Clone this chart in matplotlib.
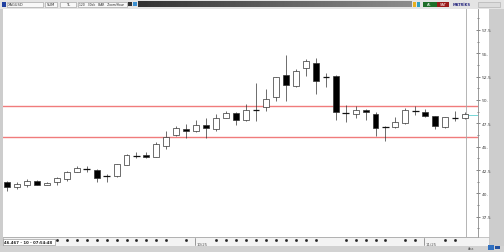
import matplotlib.pyplot as plt
import numpy as np
from matplotlib.patches import Rectangle

W, H = 504, 253

# candle data (one candle per bar)
opens  = [41.25, 40.70, 40.90, 41.36, 40.90, 41.19, 41.54, 42.26, 42.62, 42.54,
          41.83, 41.83, 43.07, 44.03, 44.10, 43.93, 45.10, 46.25, 46.89, 46.68,
          47.32, 46.89, 48.07, 48.57, 47.85, 48.92, 49.21, 50.28, 52.67, 51.46,
          53.40, 53.92, 52.42, 52.59, 48.60, 48.50, 48.95, 48.50, 47.07, 47.07,
          47.50, 48.78, 48.68, 48.25, 47.07, 48.07, 48.03]
highs  = [41.30, 41.25, 41.55, 41.45, 41.20, 41.80, 42.43, 42.97, 42.96, 42.60,
          42.08, 43.20, 44.20, 44.46, 44.40, 45.47, 46.71, 47.18, 47.43, 47.90,
          48.07, 48.50, 48.78, 48.70, 49.56, 51.78, 51.17, 52.50, 54.80, 53.30,
          54.37, 54.48, 52.85, 52.70, 49.46, 49.38, 49.00, 48.68, 47.24, 48.14,
          49.10, 49.38, 49.03, 48.30, 48.20, 48.78, 48.70]
lows   = [40.30, 40.45, 40.66, 40.85, 40.85, 40.90, 41.36, 42.26, 42.26, 41.19,
          41.25, 41.75, 43.00, 43.76, 43.76, 43.86, 44.75, 46.10, 45.90, 46.54,
          45.93, 46.71, 48.07, 47.32, 47.78, 47.78, 48.85, 49.92, 49.92, 51.35,
          52.52, 50.63, 51.35, 47.85, 47.60, 48.03, 47.88, 46.11, 45.64, 46.97,
          47.43, 48.42, 48.14, 46.89, 47.00, 47.78, 47.95]
closes = [40.65, 41.05, 41.33, 40.93, 41.15, 41.62, 42.26, 42.72, 42.62, 41.62,
          41.83, 43.15, 44.14, 44.03, 43.93, 45.25, 46.00, 46.97, 46.68, 47.32,
          47.00, 48.03, 48.57, 47.85, 48.92, 48.92, 50.10, 52.42, 51.60, 53.06,
          54.20, 52.00, 52.42, 48.68, 48.60, 48.95, 48.68, 46.97, 47.07, 47.60,
          48.95, 48.78, 48.25, 47.18, 48.17, 48.07, 48.50]

levels = [49.38, 46.03]
ytick_vals = [37.5, 40, 42.5, 45, 47.5, 50, 52.5, 55, 57.5]
ytick_labels = ['37.5', '40.', '42.5', '45.', '47.5', '50.', '52.5', '55.', '57.5']
dot_idx = [5, 6, 7, 8, 9, 10, 11, 12, 13, 14, 15, 16, 18, 21, 22, 23, 24, 25, 26,
           27, 28, 29, 30, 31, 34, 35, 36, 37, 38, 40, 41, 44, 45]
date_idx = [19, 42]
date_labels = ['10/25', '11/25']
status_text = '46.467 - 10 - 07:54:48'


def frac(x0, y0, x1, y1):
    # pixel box (top-left origin) -> figure fraction rect
    return [x0 / W, 1 - y1 / H, (x1 - x0) / W, (y1 - y0) / H]


def box(x0, y0, x1, y1, fc, ec='none', lw=0.4, z=0):
    l, b, w, h = frac(x0, y0, x1, y1)
    fig.add_artist(Rectangle((l, b), w, h, transform=fig.transFigure,
                             fc=fc, ec=ec, lw=lw, zorder=z))


def label(x, y, s, size=2.6, color='#222', **kw):
    fig.text(x / W, 1 - y / H, s, fontsize=size, color=color, va='center', **kw)


fig = plt.figure(figsize=(W / 100, H / 100), dpi=100)
fig.patch.set_facecolor('#cdcdcd')

# window chrome
box(0, 0, 504, 9.5, '#e4e4e4')
box(3, 9.5, 489, 238, 'white')
box(3, 238, 489, 247, '#f3f3f3', ec='#b0b0b0')
box(0, 247, 504, 253, '#d2d2d2')

# top toolbar
box(2, 2.5, 6, 7.5, '#2040a0')
box(7, 2.5, 43, 7.5, '#f8f8f8', ec='#999')
label(8, 5, 'XAGUSD', color='#333')
box(45, 2.5, 57, 7.5, '#f8f8f8', ec='#999')
label(46.5, 5, 'SUM')
box(60, 2.5, 76, 7.5, '#f8f8f8', ec='#999')
label(66, 5, 'TL')
box(78, 2.5, 127, 7.5, '#f8f8f8', ec='#999')
label(79, 5, '120   30dk   BAR   Zoom/Hour', size=2.2)
box(128, 3, 131.5, 7, '#333')
box(133, 3, 137, 7, '#3a8fd0')
grad = fig.add_axes(frac(138, 2, 412, 8))
grad.imshow(np.linspace(0.2, 0.55, 200)[None, :], aspect='auto', cmap='gray',
            vmin=0, vmax=1)
grad.set_axis_off()
box(413, 2.5, 416, 7.5, '#e8b020')
box(417, 2.5, 420, 7.5, '#30a0c0')
box(423, 2.5, 437, 7.5, '#1f6f2a')
label(427, 5, 'AL', color='white')
box(437, 2.5, 449, 7.5, '#9a1a1a')
label(439.5, 5, 'SAT', color='white')
label(453, 5, 'MATRİKS', color='#2a2a80', weight='bold')
box(478, 2.5, 500, 7.5, '#dcdcdc', ec='#aaa')

# bottom status
box(3, 239.5, 55, 246, 'white', ec='#888')
label(4, 243, status_text, size=2.8, weight='bold')
label(468, 249.5, 'Ana', size=2.4, color='#555')
box(488, 245.5, 494, 251, '#3070c0')
box(495, 247, 500, 250, '#2050a0')

# chart
ax = fig.add_axes(frac(3, 9.5, 478, 238))
ax.set_facecolor('white')
ax.set_xlim(-0.4, 47.29)
ax.set_ylim(35.34, 59.78)

for lv in levels:
    ax.axhline(lv, color='#f07c7c', lw=1.0, zorder=1)

ax.axvline(46.1, color='#a8a8a8', lw=0.6, zorder=1)

for i, (o, h, l, c) in enumerate(zip(opens, highs, lows, closes)):
    ax.vlines(i, l, h, color='#333', lw=0.5, zorder=2)
    if abs(c - o) < 0.08:
        ax.hlines(o, i - 0.32, i + 0.32, color='#111', lw=0.9, zorder=3)
    else:
        ax.add_patch(Rectangle((i - 0.3, min(o, c)), 0.6, abs(c - o),
                               fc='white' if c > o else 'black',
                               ec='#333', lw=0.5, zorder=3))

# last price marker
ax.hlines(closes[-1] - 0.1, len(closes) - 0.7, 47.29, color='#40c8c8', lw=0.5, zorder=2)

for s in ['left', 'top']:
    ax.spines[s].set_visible(False)
ax.spines['right'].set_color('#8a8a8a')
ax.spines['right'].set_linewidth(0.6)
ax.spines['bottom'].set_color('#aaaaaa')
ax.spines['bottom'].set_linewidth(0.5)

ax.yaxis.tick_right()
ax.set_yticks(ytick_vals, ytick_labels)
ax.set_yticks(np.arange(36.25, 59, 2.5), minor=True)
ax.tick_params(axis='y', which='both', direction='inout', length=2.2, width=0.5,
               color='#555', labelsize=3.2, labelcolor='#444', pad=1.5)
ax.tick_params(axis='y', which='minor', length=1.5)
ax.set_xticks([])

xt = ax.get_xaxis_transform()
ax.plot(dot_idx, [-0.014] * len(dot_idx), 's', ms=0.9, color='#222',
        transform=xt, clip_on=False)
for i, s in zip(date_idx, date_labels):
    ax.plot([i - 0.1, i - 0.1], [-0.005, -0.035], color='#555', lw=0.4,
            transform=xt, clip_on=False)
    ax.text(i, -0.02, s, fontsize=2.8, color='#555', va='top', ha='left',
            transform=xt, clip_on=False)

fig.savefig('out.png', dpi=100, facecolor=fig.get_facecolor())
